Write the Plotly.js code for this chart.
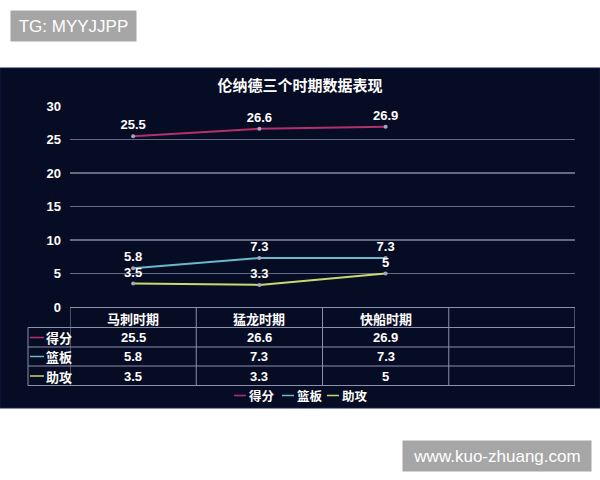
<!DOCTYPE html>
<html>
<head>
<meta charset="utf-8">
<script src="https://cdn.plot.ly/plotly-3.0.1.min.js"></script>
<style>
html,body{margin:0;padding:0;background:#fff;}
#chart{width:600px;height:480px;}
</style>
</head>
<body>
<div id="chart"></div>
<script>
// ---- data ----
const periods = ['马刺时期', '猛龙时期', '快船时期'];
const seriesNames = ['得分', '篮板', '助攻'];
const points = [25.5, 26.6, 26.9];
const rebounds = [5.8, 7.3, 7.3];
const assists = [3.5, 3.3, 5];
const yTicks = [0, 5, 10, 15, 20, 25, 30];
const titleText = '伦纳德三个时期数据表现';
const watermarkTop = 'TG: MYYJJPP';
const watermarkBottom = 'www.kuo-zhuang.com';

// ---- styling ----
const seriesValues = [points, rebounds, assists];
const colors = ['#b3306d', '#6ab8c9', '#c9d972'];
const W = 600, H = 480;
const M = {l: 70, r: 25, t: 106, b: 173};
const PW = W - M.l - M.r, PH = H - M.t - M.b;
const px = x => (x - M.l) / PW;
const py = y => (H - M.b - y) / PH;
const FONT = '"Liberation Sans", "Noto Sans CJK SC", sans-serif';
const CJK = '"Noto Sans CJK SC", "Noto Sans", sans-serif';
const gridCol = '#646a86';
const tableCol = '#8a90ad';
const cats = periods.concat([' ']);

const traces = seriesValues.map((vals, i) => ({
  type: 'scatter',
  mode: 'lines+markers+text',
  x: periods,
  y: vals,
  name: seriesNames[i],
  text: vals.map(v => String(v)),
  textposition: 'top center',
  textfont: {family: FONT, size: 13, color: '#ffffff', weight: 'bold'},
  line: {color: colors[i], width: 2},
  marker: {size: 4, color: '#a4a8bd'},
  cliponaxis: false,
  hoverinfo: 'skip',
  showlegend: false
}));

const shapes = [];
const annotations = [];

// dark panel
shapes.push({type: 'rect', xref: 'paper', yref: 'paper', layer: 'below',
  x0: px(0), x1: px(600), y0: py(408), y1: py(68),
  fillcolor: '#070c25', line: {color: '#0f1c4c', width: 1}});

// table geometry (pixels)
const rowLines = [307.5, 327.5, 347, 366, 385.5];
const rowCenters = [318, 337.5, 356.5, 376];
const leftX = 28;

// horizontal table lines
rowLines.forEach((y, k) => {
  shapes.push({type: 'line', xref: 'paper', yref: 'paper',
    x0: k === 0 ? 0 : px(leftX), x1: 1, y0: py(y), y1: py(y),
    line: {color: tableCol, width: 1}});
});
// vertical table lines at category boundaries
for (let c = 0; c <= cats.length; c++) {
  shapes.push({type: 'line', xref: 'x', yref: 'paper',
    x0: c - 0.5, x1: c - 0.5, y0: py(rowLines[0]), y1: py(rowLines[4]),
    line: {color: tableCol, width: 1}});
}
// left border of label column
shapes.push({type: 'line', xref: 'paper', yref: 'paper',
  x0: px(leftX), x1: px(leftX), y0: py(rowLines[1]), y1: py(rowLines[4]),
  line: {color: tableCol, width: 1}});

const cellFont = {family: FONT, size: 13, color: '#ffffff', weight: 'bold'};
const cjkFont = {family: CJK, size: 13, color: '#ffffff', weight: 'bold'};
// header cells
periods.forEach(p => {
  annotations.push({xref: 'x', yref: 'paper', x: p, y: py(rowCenters[0]),
    text: p, showarrow: false, font: cjkFont, xanchor: 'center', yanchor: 'middle'});
});
// row labels and values
seriesNames.forEach((name, i) => {
  const yc = py(rowCenters[i + 1]);
  shapes.push({type: 'line', xref: 'paper', yref: 'paper',
    x0: px(30), x1: px(44), y0: yc, y1: yc, line: {color: colors[i], width: 1.5}});
  annotations.push({xref: 'paper', yref: 'paper', x: px(44), y: yc,
    text: name, showarrow: false, font: cjkFont, xanchor: 'left', yanchor: 'middle'});
  seriesValues[i].forEach((v, j) => {
    annotations.push({xref: 'x', yref: 'paper', x: periods[j], y: yc,
      text: String(v), showarrow: false, font: cellFont, xanchor: 'center', yanchor: 'middle'});
  });
});

// custom legend
const legendY = py(395.5);
const legendStarts = [234, 282, 327];
seriesNames.forEach((name, i) => {
  const x0 = legendStarts[i];
  shapes.push({type: 'line', xref: 'paper', yref: 'paper',
    x0: px(x0), x1: px(x0 + 12), y0: legendY, y1: legendY, line: {color: colors[i], width: 1.5}});
  annotations.push({xref: 'paper', yref: 'paper', x: px(x0 + 13), y: legendY,
    text: name, showarrow: false, font: {family: CJK, size: 12.5, color: '#ffffff', weight: 'bold'},
    xanchor: 'left', yanchor: 'middle'});
});

// watermarks
annotations.push({xref: 'paper', yref: 'paper', x: px(10), y: py(10),
  xanchor: 'left', yanchor: 'top', text: watermarkTop, showarrow: false,
  width: 125, height: 30, bgcolor: '#a6a6a6', borderpad: 0,
  font: {family: '"Liberation Sans", Arial, sans-serif', size: 17, color: '#ffffff'}});
annotations.push({xref: 'paper', yref: 'paper', x: px(402), y: py(440),
  xanchor: 'left', yanchor: 'top', text: watermarkBottom, showarrow: false,
  width: 188, height: 30, bgcolor: '#a6a6a6', borderpad: 0,
  font: {family: '"Liberation Sans", Arial, sans-serif', size: 17, color: '#ffffff'}});

const layout = {
  width: W, height: H,
  margin: M,
  paper_bgcolor: '#ffffff',
  plot_bgcolor: 'rgba(0,0,0,0)',
  showlegend: false,
  title: {text: titleText, x: 0.5, xref: 'container', xanchor: 'center',
    y: 1 - 86 / H, yref: 'container', yanchor: 'middle',
    font: {family: CJK, size: 15, color: '#ffffff', weight: 'bold'}},
  xaxis: {type: 'category', categoryorder: 'array', categoryarray: cats,
    range: [-0.5, cats.length - 0.5], showgrid: false, zeroline: false,
    showline: false, showticklabels: false, ticks: '', fixedrange: true},
  yaxis: {range: [0, 30], tickvals: yTicks, showgrid: true, gridcolor: gridCol,
    gridwidth: 1.5, zeroline: false, showline: false, ticks: '',
    ticklabelstandoff: 8,
    tickfont: {family: FONT, size: 13, color: '#ffffff', weight: 'bold'}, fixedrange: true},
  shapes: shapes,
  annotations: annotations
};

Plotly.newPlot('chart', traces, layout, {staticPlot: true, displayModeBar: false});
</script>
</body>
</html>
